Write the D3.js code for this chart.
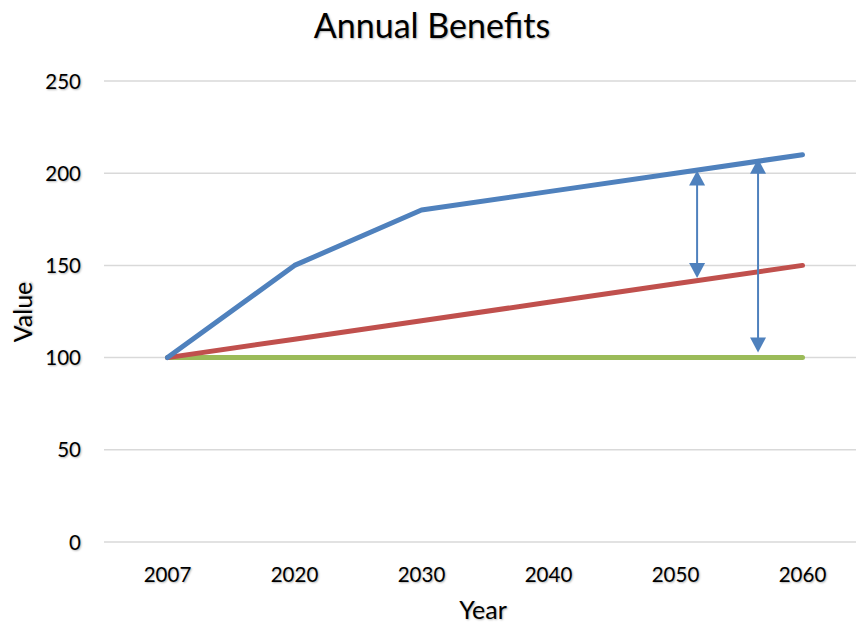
<!DOCTYPE html>
<html>
  <head>
    <title>Annual Benefits</title>
    <style>
      body {
        margin: 0;
        background: #fff;
      }
      text {
        font-family: Lato, "Open Sans", sans-serif;
        fill: #000;
        text-shadow: 1px 1px 2px rgba(0, 0, 0, 0.3);
      }
    </style>
  </head>
  <body>
    <svg id="canvas" width="856" height="623"></svg>
    <script src="https://d3js.org/d3.v7.min.js"></script>
    <script>
      var years = ["2007", "2020", "2030", "2040", "2050", "2060"];
      var blueValues = [100, 150, 180, 190, 200, 210];
      var redValues = [100, 110, 120, 130, 140, 150];
      var greenValues = [100, 100, 100, 100, 100, 100];
      var yTicks = [0, 50, 100, 150, 200, 250];

      // arrows: position in category index units, from / to values
      var arrowAt = [4.17, 4.65];
      var arrowFrom = [201.5, 207.8];
      var arrowTo = [143.2, 102.8];

      var seriesColors = ["#4f81bd", "#c0504d", "#9bbb59"];

      const svg = d3.select("#canvas");

      const x = d3.scaleBand().domain(years).range([104, 866]);
      const y = d3.scaleLinear().domain([0, 250]).range([542, 81]);

      // index -> pixel, for arrows that sit between categories
      const xi = d3
        .scaleLinear()
        .domain([0, years.length - 1])
        .range([x(years[0]) + x.bandwidth() / 2, x(years[years.length - 1]) + x.bandwidth() / 2]);

      // gridlines
      svg
        .append("g")
        .selectAll("line")
        .data(yTicks)
        .join("line")
        .attr("x1", 104)
        .attr("x2", 856)
        .attr("y1", d => y(d))
        .attr("y2", d => y(d))
        .attr("stroke", "#d9d9d9")
        .attr("stroke-width", 1.5);

      // y tick labels
      svg
        .append("g")
        .selectAll("text")
        .data(yTicks)
        .join("text")
        .attr("x", 81)
        .attr("y", d => y(d) + 7.5)
        .attr("text-anchor", "end")
        .attr("font-size", "20.5px")
        .text(d => d);

      // x tick labels
      svg
        .append("g")
        .selectAll("text")
        .data(years)
        .join("text")
        .attr("x", d => x(d) + x.bandwidth() / 2)
        .attr("y", 582)
        .attr("text-anchor", "middle")
        .attr("font-size", "20.5px")
        .text(d => d);

      // series lines
      const line = d3
        .line()
        .x((d, i) => x(years[i]) + x.bandwidth() / 2)
        .y(d => y(d));

      [greenValues, redValues, blueValues].forEach((vals, k) => {
        const color = [seriesColors[2], seriesColors[1], seriesColors[0]][k];
        svg
          .append("path")
          .attr("d", line(vals))
          .attr("fill", "none")
          .attr("stroke", color)
          .attr("stroke-width", 5)
          .attr("stroke-linecap", "round")
          .attr("stroke-linejoin", "round");
      });

      // double-headed arrows
      const headLen = 15;
      const headHalf = 8;
      arrowAt.forEach((a, i) => {
        const ax = xi(a);
        const yTop = y(arrowFrom[i]);
        const yBot = y(arrowTo[i]);
        const g = svg.append("g").attr("fill", seriesColors[0]);
        g.append("line")
          .attr("x1", ax)
          .attr("x2", ax)
          .attr("y1", yTop + headLen - 1)
          .attr("y2", yBot - headLen + 1)
          .attr("stroke", seriesColors[0])
          .attr("stroke-width", 2);
        g.append("path").attr(
          "d",
          "M" + ax + "," + yTop + "L" + (ax + headHalf) + "," + (yTop + headLen) + "H" + (ax - headHalf) + "Z"
        );
        g.append("path").attr(
          "d",
          "M" + ax + "," + yBot + "L" + (ax + headHalf) + "," + (yBot - headLen) + "H" + (ax - headHalf) + "Z"
        );
      });

      // title
      svg
        .append("text")
        .attr("x", 432)
        .attr("y", 38)
        .attr("text-anchor", "middle")
        .attr("font-size", "34px")
        .text("Annual Benefits");

      // axis titles
      svg
        .append("text")
        .attr("x", 483)
        .attr("y", 619)
        .attr("text-anchor", "middle")
        .attr("font-size", "25px")
        .text("Year");

      svg
        .append("text")
        .attr("transform", "translate(32,312) rotate(-90)")
        .attr("text-anchor", "middle")
        .attr("font-size", "25px")
        .text("Value");
    </script>
  </body>
</html>
